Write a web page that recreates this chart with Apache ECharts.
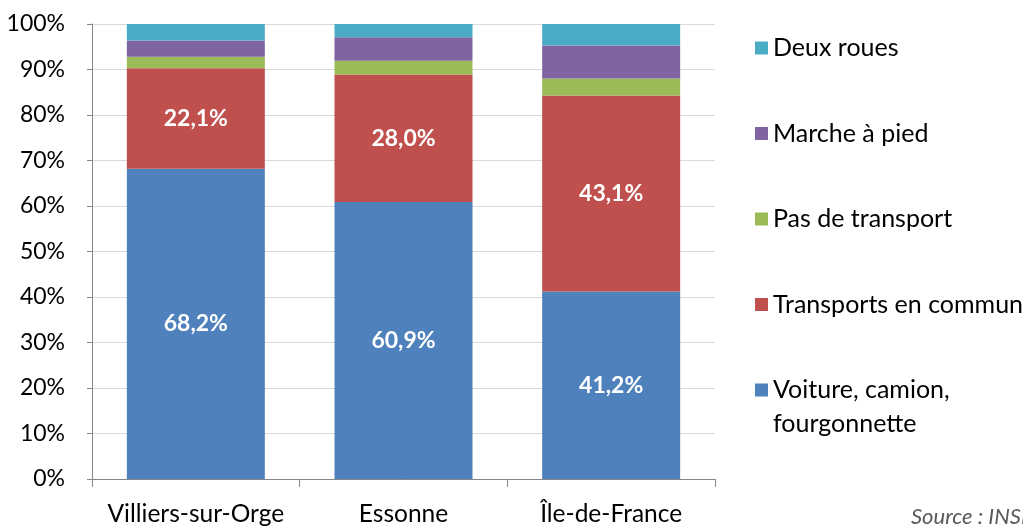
<!DOCTYPE html>
<html>
<head>
<meta charset="utf-8">
<script src="https://cdn.jsdelivr.net/npm/echarts@6/dist/echarts.min.js"></script>
<style>html,body{margin:0;padding:0;background:#fff;}#c{width:1023px;height:527px;}</style>
</head>
<body>
<div id="c"></div>
<script>
const categories = ['Villiers-sur-Orge', 'Essonne', 'Île-de-France'];
const voiture = [68.2, 60.9, 41.2];
const transportsCommun = [22.1, 28.0, 43.1];
const pasTransport = [2.5, 3.0, 3.7];
const marche = [3.6, 5.2, 7.3];
const deuxRoues = [3.6, 2.9, 4.7];
const yTicks = [0, 10, 20, 30, 40, 50, 60, 70, 80, 90, 100];

const FONT = 'Lato';
const chart = echarts.init(document.getElementById('c'), null, {renderer: 'canvas'});
const fmt = p => p.value.toFixed(1).replace('.', ',') + '%';
const lbl = {show: true, position: 'inside', color: '#fff', fontWeight: 'bold', fontSize: 23, fontFamily: FONT, formatter: fmt};
function s(name, data, color, label) {
  return {name, type: 'bar', stack: 'all', data, barWidth: 138,
    itemStyle: {color}, label: label ? lbl : {show: false}, emphasis: {disabled: true}};
}
chart.setOption({
  animation: false,
  textStyle: {fontFamily: FONT},
  grid: {left: 92, right: 308, top: 24, bottom: 45.5, containLabel: false},
  xAxis: {type: 'category', data: categories,
    axisLine: {lineStyle: {color: '#868686', width: 1}},
    axisTick: {show: true, length: 8, lineStyle: {color: '#868686'}},
    axisLabel: {color: '#000', fontSize: 24.5, fontFamily: FONT, margin: 23, interval: 0, hideOverlap: false}},
  yAxis: {type: 'value', min: yTicks[0], max: yTicks[yTicks.length - 1], interval: 10,
    axisLine: {show: true, lineStyle: {color: '#868686', width: 1}},
    axisTick: {show: true, length: 5, lineStyle: {color: '#868686'}},
    axisLabel: {color: '#000', fontSize: 23, fontFamily: FONT, margin: 27, formatter: '{value}%'},
    splitLine: {lineStyle: {color: '#d9d9d9', width: 1}}},
  legend: [
    {data: ['Deux roues', 'Marche à pied', 'Pas de transport', 'Transports en commun'],
     orient: 'vertical', left: 750, top: 28, itemWidth: 13, itemHeight: 13, itemGap: 55.5,
     icon: 'rect', selectedMode: false,
     textStyle: {fontSize: 25, fontFamily: FONT, color: '#000', lineHeight: 30, padding: [0, 0, 0, 0]}},
    {data: ['Voiture, camion, fourgonnette'],
     orient: 'vertical', left: 750, top: 334, itemWidth: 13, itemHeight: 13,
     icon: 'rect', selectedMode: false,
     formatter: () => '\nVoiture, camion,\nfourgonnette',
     textStyle: {fontSize: 25, fontFamily: FONT, color: '#000', lineHeight: 34, padding: [0, 0, 0, 0]}}
  ],
  graphic: [{type: 'text', left: 911, top: 506,
    style: {text: 'Source : INSEE', font: 'italic 22px ' + FONT, fill: '#595959'}}],
  series: [
    s('Voiture, camion, fourgonnette', voiture, '#4F81BD', true),
    s('Transports en commun', transportsCommun, '#C0504D', true),
    s('Pas de transport', pasTransport, '#9BBB59', false),
    s('Marche à pied', marche, '#8064A2', false),
    s('Deux roues', deuxRoues, '#4BACC6', false)
  ]
});
</script>
</body>
</html>
